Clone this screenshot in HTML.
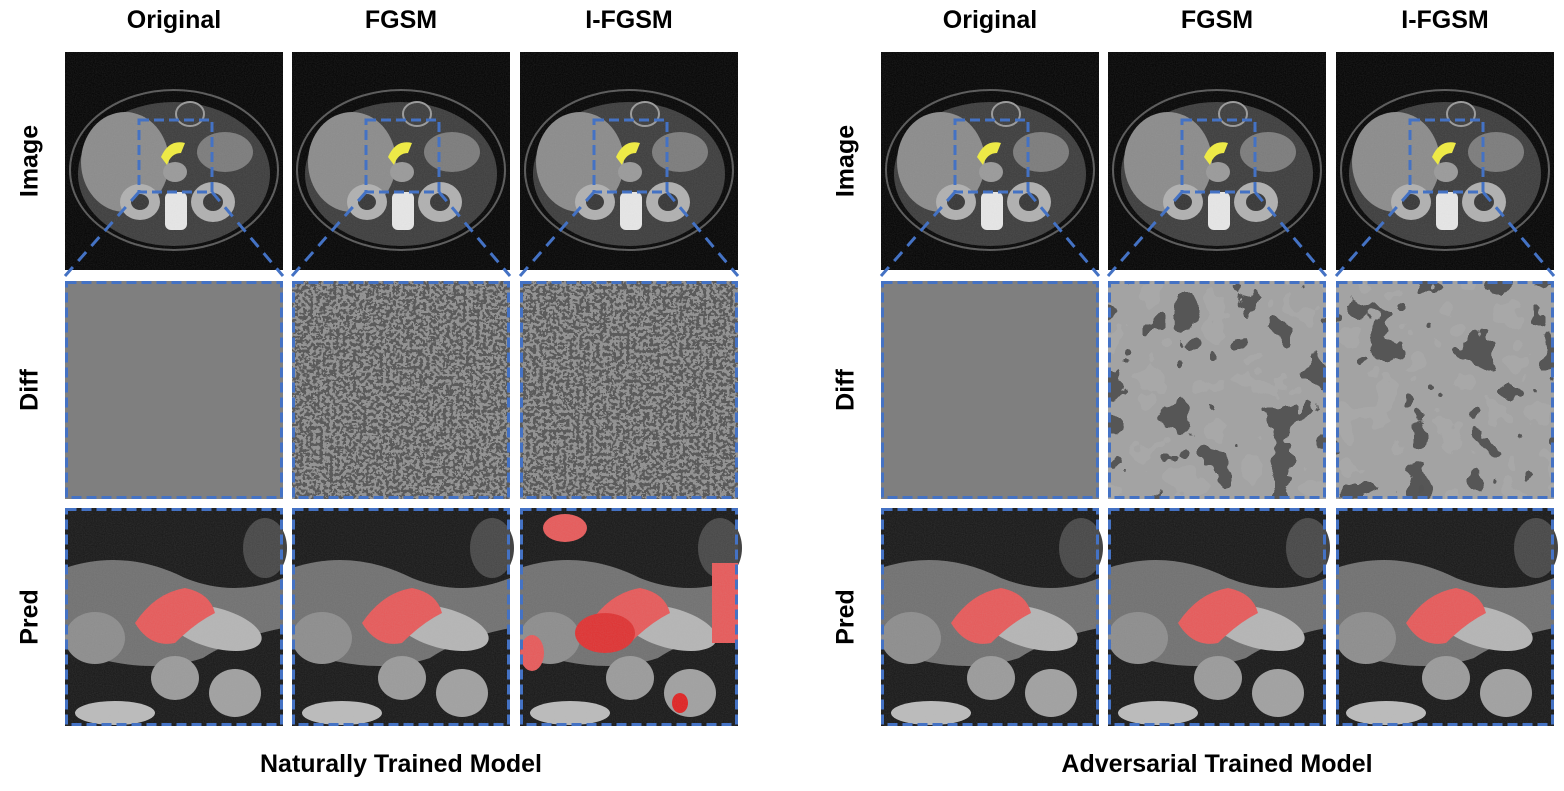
<!DOCTYPE html>
<html><head><meta charset="utf-8"><style>
body{margin:0;background:#fff;}
svg text{font-family:"Liberation Sans",sans-serif;font-weight:bold;}
</style></head><body>
<svg id="fig" width="1564" height="786" viewBox="0 0 1564 786" xmlns="http://www.w3.org/2000/svg">
<defs>
<filter id="fineNoise" x="0" y="0" width="100%" height="100%" color-interpolation-filters="sRGB">
<feTurbulence type="fractalNoise" baseFrequency="0.3" numOctaves="2" seed="3"/>
<feColorMatrix type="saturate" values="0"/>
<feComponentTransfer><feFuncR type="discrete" tableValues="0.33 0.36 0.58 0.62"/><feFuncG type="discrete" tableValues="0.33 0.36 0.58 0.62"/><feFuncB type="discrete" tableValues="0.33 0.36 0.58 0.62"/><feFuncA type="linear" slope="0" intercept="1"/></feComponentTransfer>
</filter>
<filter id="blobNoise" x="0" y="0" width="100%" height="100%" color-interpolation-filters="sRGB">
<feTurbulence type="fractalNoise" baseFrequency="0.03" numOctaves="3" seed="7"/>
<feColorMatrix type="saturate" values="0"/>
<feComponentTransfer><feFuncR type="discrete" tableValues="0.33 0.34 0.64 0.66 0.66"/><feFuncG type="discrete" tableValues="0.33 0.34 0.64 0.66 0.66"/><feFuncB type="discrete" tableValues="0.33 0.34 0.64 0.66 0.66"/><feFuncA type="linear" slope="0" intercept="1"/></feComponentTransfer>
</filter>
<filter id="grain" x="0" y="0" width="100%" height="100%"><feTurbulence type="fractalNoise" baseFrequency="0.9" numOctaves="1" seed="2"/><feColorMatrix type="matrix" values="0 0 0 0 0.5 0 0 0 0 0.5 0 0 0 0 0.5 0 0 0 0.35 0"/></filter>
</defs>
<g id="content"></g>
</svg>
<script>
const cols = ["Original","FGSM","I-FGSM"];
const rows = ["Image","Diff","Pred"];
const groups = ["Naturally Trained Model","Adversarial Trained Model"];
const groupX = [[65,292,520],[881,1108,1336]];
const rowY = [52,281,508];
const S = 218;
const NS = "http://www.w3.org/2000/svg";
const root = document.getElementById('content');
function el(tag, attrs, parent){const e=document.createElementNS(NS,tag);for(const k in attrs)e.setAttribute(k,attrs[k]);(parent||root).appendChild(e);return e;}
const BLUE="#4472c4";

function ct(g,x,y){
  el('rect',{x:x,y:y,width:S,height:S,fill:'#000'},g);
  el('ellipse',{cx:x+109,cy:y+118,rx:104,ry:80,fill:'none',stroke:'#555','stroke-width':2},g);
  el('ellipse',{cx:x+109,cy:y+122,rx:96,ry:72,fill:'#3a3a3a'},g);
  el('ellipse',{cx:x+60,cy:y+110,rx:44,ry:50,fill:'#8a8a8a'},g);
  el('ellipse',{cx:x+160,cy:y+100,rx:28,ry:20,fill:'#7a7a7a'},g);
  el('ellipse',{cx:x+75,cy:y+150,rx:20,ry:18,fill:'#b0b0b0'},g);
  el('ellipse',{cx:x+148,cy:y+150,rx:22,ry:20,fill:'#b0b0b0'},g);
  el('ellipse',{cx:x+75,cy:y+150,rx:9,ry:8,fill:'#333'},g);
  el('ellipse',{cx:x+148,cy:y+150,rx:10,ry:9,fill:'#333'},g);
  el('rect',{x:x+100,y:y+140,width:22,height:38,rx:6,fill:'#e8e8e8'},g);
  el('ellipse',{cx:x+110,cy:y+120,rx:12,ry:10,fill:'#999'},g);
  el('ellipse',{cx:x+125,cy:y+62,rx:14,ry:12,fill:'none',stroke:'#999','stroke-width':2},g);
  el('path',{d:`M${x+96} ${y+105} q8 -18 24 -14 l-4 10 q-10 0 -14 12 z`,fill:'#f2ee3c'},g);
  el('rect',{x:x,y:y,width:S,height:S,filter:'url(#grain)',opacity:0.5},g);
  el('rect',{x:x+74,y:y+68,width:73,height:72,fill:'none',stroke:BLUE,'stroke-width':3,'stroke-dasharray':'10 5'},g);
  el('path',{d:`M${x+74} ${y+140} L${x} ${y+224} M${x+147} ${y+140} L${x+S} ${y+224}`,stroke:BLUE,'stroke-width':3,'stroke-dasharray':'12 8',fill:'none'},g);
}
function diff(g,x,y,kind){
  if(kind===0) el('rect',{x:x,y:y,width:S,height:S,fill:'#7f7f7f'},g);
  else el('rect',{x:x,y:y,width:S,height:S,filter:kind===1?'url(#fineNoise)':'url(#blobNoise)'},g);
  el('rect',{x:x+1.5,y:y+1.5,width:S-3,height:S-3,fill:'none',stroke:BLUE,'stroke-width':3,'stroke-dasharray':'10 5'},g);
}
function pred(g,x,y,gi,ci){
  el('rect',{x:x,y:y,width:S,height:S,fill:'#151515'},g);
  el('path',{d:`M${x} ${y+60} q60 -20 120 10 q50 20 98 0 v50 q-50 10 -80 30 q-60 20 -138 -10 z`,fill:'#6f6f6f'},g);
  el('ellipse',{cx:x+150,cy:y+120,rx:48,ry:20,fill:'#b5b5b5',transform:`rotate(15 ${x+150} ${y+120})`},g);
  el('ellipse',{cx:x+110,cy:y+170,rx:24,ry:22,fill:'#9a9a9a'},g);
  el('ellipse',{cx:x+170,cy:y+185,rx:26,ry:24,fill:'#a0a0a0'},g);
  el('ellipse',{cx:x+30,cy:y+130,rx:30,ry:26,fill:'#8c8c8c'},g);
  el('ellipse',{cx:x+200,cy:y+40,rx:22,ry:30,fill:'#444'},g);
  el('ellipse',{cx:x+50,cy:y+205,rx:40,ry:12,fill:'#bbb'},g);
  el('path',{d:`M${x+70} ${y+115} q20 -30 50 -35 q25 5 30 25 q-20 10 -40 30 q-25 5 -40 -20 z`,fill:'#e85858'},g);
  if(gi===0&&ci===2){
    el('ellipse',{cx:x+45,cy:y+20,rx:22,ry:14,fill:'#e85858'},g);
    el('rect',{x:x+192,y:y+55,width:26,height:80,fill:'#e85858'},g);
    el('ellipse',{cx:x+85,cy:y+125,rx:30,ry:20,fill:'#e03030'},g);
    el('ellipse',{cx:x+160,cy:y+195,rx:8,ry:10,fill:'#e02020'},g);
    el('ellipse',{cx:x+12,cy:y+145,rx:12,ry:18,fill:'#e85858'},g);
  }
  el('rect',{x:x,y:y,width:S,height:S,filter:'url(#grain)',opacity:0.5},g);
  el('rect',{x:x+1.5,y:y+1.5,width:S-3,height:S-3,fill:'none',stroke:BLUE,'stroke-width':3,'stroke-dasharray':'10 5'},g);
}
groups.forEach((gname,gi)=>{
  const gg=el('g',{});
  
  
  cols.forEach((c,ci)=>{
    const x=groupX[gi][ci];
    const t=el('text',{x:x+S/2,y:28,'text-anchor':'middle','font-size':25,fill:'#000'},gg);
    t.textContent=c;
    
    
    rows.forEach((r,ri)=>{
      const cell=el('g',{},gg);
      
      
      const y=rowY[ri];
      if(ri===0) ct(cell,x,y); else if(ri===1) diff(cell,x,y,ci===0?0:(gi===0?1:2)); else pred(cell,x,y,gi,ci);
    });
  });
  rows.forEach((r,ri)=>{
    const lx=groupX[gi][0]-34, ly=rowY[ri]+S/2;
    const t=el('text',{x:lx,y:ly,'text-anchor':'middle','font-size':25,fill:'#000',transform:`rotate(-90 ${lx} ${ly})`,'dominant-baseline':'middle'},gg);
    t.textContent=r;
    
    
  });
  const gx=groupX[gi][1]+S/2;
  const t=el('text',{x:gx,y:772,'text-anchor':'middle','font-size':25,fill:'#000'},gg);
  t.textContent=gname;
  
  
});
</script>
</body></html>
